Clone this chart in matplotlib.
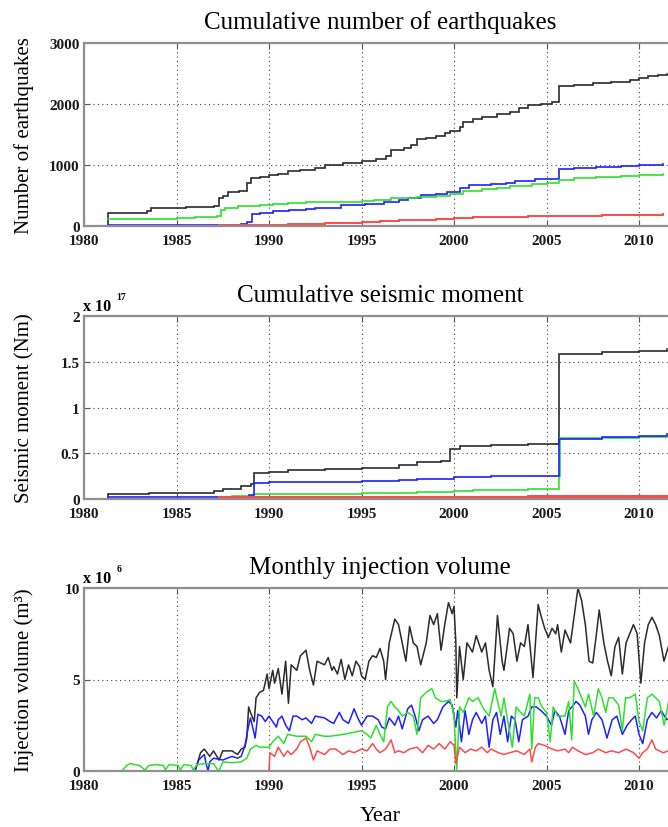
import matplotlib
matplotlib.use("Agg")
import matplotlib.pyplot as plt
import numpy as np

plt.rcParams['font.family'] = ['Liberation Serif', 'DejaVu Serif']

# ---------------- data ----------------
years_ticks = [1980, 1985, 1990, 1995, 2000, 2005, 2010]

# Cumulative number of earthquakes (time, count) step breakpoints
count_black = [(1981.0, 0), (1981.3, 220), (1983.4, 250), (1983.6, 300), (1985.5, 305), (1986.3, 315), (1987.0, 335),
               (1987.3, 460), (1987.5, 500), (1987.8, 550), (1988.4, 580), (1988.8, 700), (1989.0, 780), (1989.5, 800),
               (1990.0, 830), (1990.5, 860), (1991.0, 900), (1991.7, 920), (1992.5, 950), (1993.0, 1000), (1994.0, 1030),
               (1995.0, 1070), (1995.8, 1100), (1996.3, 1140), (1996.6, 1250), (1997.3, 1280), (1997.7, 1320),
               (1998.0, 1420), (1998.5, 1450), (1999.0, 1480), (1999.5, 1520), (1999.8, 1560), (2000.3, 1620),
               (2000.5, 1700), (2001.0, 1750), (2001.5, 1790), (2002.3, 1830), (2003.0, 1870), (2003.5, 1940),
               (2004.0, 1980), (2004.7, 2000), (2005.3, 2030), (2005.7, 2290), (2006.5, 2310), (2007.5, 2340),
               (2008.5, 2360), (2009.5, 2390), (2010.0, 2430), (2010.5, 2460), (2011.0, 2480), (2011.5, 2500)]
count_green = [(1981.3, 110), (1983.4, 120), (1985.0, 130), (1986.0, 140), (1987.2, 170), (1987.4, 270), (1987.6, 300),
               (1988.3, 330), (1989.5, 340), (1990.2, 360), (1991.0, 380), (1992.0, 400), (1995.0, 410), (1995.7, 430),
               (1996.6, 460), (1998.0, 480), (1999.0, 500), (1999.8, 520), (2000.5, 580), (2001.5, 610), (2002.3, 630),
               (2003.0, 660), (2004.2, 690), (2005.0, 700), (2005.7, 760), (2006.5, 780), (2007.7, 800), (2009.0, 820),
               (2010.0, 830), (2011.3, 850)]
count_blue = [(1981.3, 20), (1988.5, 25), (1988.8, 60), (1989.1, 200), (1989.5, 220), (1990.2, 240), (1991.1, 260),
              (1992.0, 280), (1992.5, 300), (1993.9, 340), (1995.2, 360), (1996.2, 400), (1997.0, 430), (1997.5, 460),
              (1998.2, 510), (1999.0, 530), (1999.6, 560), (2000.3, 620), (2000.8, 670), (2002.0, 690), (2002.8, 700),
              (2003.3, 740), (2004.4, 770), (2005.7, 930), (2006.5, 950), (2007.7, 960), (2009.0, 980), (2010.0, 1000),
              (2011.3, 1020)]
count_red = [(1987.3, 15), (1990.6, 20), (1991.0, 25), (1992.0, 35), (1993.0, 45), (1994.0, 55), (1995.0, 70),
             (1996.0, 80), (1997.0, 95), (1998.0, 105), (1999.0, 120), (2000.0, 130), (2001.0, 140), (2002.0, 150),
             (2003.0, 155), (2004.0, 160), (2005.0, 165), (2007.0, 170), (2008.0, 175), (2009.0, 180), (2010.0, 185),
             (2011.3, 190)]

# Cumulative seismic moment (x 1e17 Nm)
moment_black = [(1981.0, 0.005), (1981.3, 0.05), (1983.5, 0.065), (1985.5, 0.07), (1987.0, 0.085), (1987.5, 0.11),
                (1988.5, 0.14), (1989.0, 0.16), (1989.2, 0.28), (1990.0, 0.30), (1991.0, 0.32), (1993.0, 0.33),
                (1995.0, 0.34), (1997.0, 0.37), (1998.0, 0.40), (1999.3, 0.42), (1999.8, 0.55), (2000.3, 0.58),
                (2002.0, 0.59), (2004.0, 0.60), (2005.7, 1.59), (2008.0, 1.61), (2010.0, 1.62), (2011.5, 1.64)]
moment_blue = [(1981.3, 0.02), (1988.6, 0.025), (1988.9, 0.045), (1989.2, 0.18), (1990.0, 0.19), (1995.0, 0.20),
               (1997.0, 0.21), (1998.0, 0.22), (2000.0, 0.24), (2002.0, 0.25), (2005.7, 0.66), (2008.0, 0.68),
               (2010.0, 0.69), (2011.5, 0.71)]
moment_green = [(1987.3, 0.02), (1988.0, 0.035), (1989.2, 0.05), (1990.0, 0.06), (1995.0, 0.07), (1998.0, 0.08),
                (2000.0, 0.09), (2001.0, 0.10), (2004.0, 0.11), (2005.7, 0.25), (2005.75, 0.67), (2008.0, 0.67),
                (2010.0, 0.68), (2011.5, 0.68)]
moment_red = [(1987.3, 0.02), (1995.0, 0.022), (2000.0, 0.025), (2004.0, 0.03), (2011.5, 0.035)]

# Monthly injection volume (x 1e6 m3)
inj_black = [(1986.0, 0), (1986.3, 1.0), (1986.5, 1.2), (1986.8, 0.8), (1987.0, 1.1), (1987.3, 0.6), (1987.5, 1.1),
             (1988.0, 1.1), (1988.3, 0.9), (1988.5, 1.2), (1988.7, 1.3), (1988.8, 1.8), (1988.9, 3.5), (1989.0, 3.2),
             (1989.2, 2.7), (1989.3, 4.0), (1989.5, 4.3), (1989.7, 4.4), (1989.9, 5.3), (1990.0, 4.5), (1990.2, 5.5),
             (1990.3, 4.8), (1990.5, 5.6), (1990.7, 4.2), (1990.9, 6.0), (1991.05, 3.7), (1991.2, 5.8), (1991.5, 5.5),
             (1991.7, 6.3), (1992.0, 6.6), (1992.2, 5.5), (1992.4, 4.7), (1992.6, 6.0), (1993.0, 5.8), (1993.2, 6.2),
             (1993.4, 5.5), (1993.5, 5.7), (1993.7, 5.3), (1993.9, 6.1), (1994.1, 5.0), (1994.3, 5.8), (1994.5, 5.2),
             (1994.7, 6.0), (1994.9, 5.7), (1995.0, 5.2), (1995.2, 5.0), (1995.4, 6.0), (1995.6, 6.3), (1995.8, 6.2),
             (1996.0, 6.7), (1996.2, 6.0), (1996.3, 5.0), (1996.5, 7.0), (1996.8, 8.3), (1997.0, 8.0), (1997.2, 7.0),
             (1997.4, 6.0), (1997.6, 7.9), (1997.8, 7.0), (1998.0, 6.8), (1998.2, 5.8), (1998.5, 7.0), (1998.7, 8.5),
             (1998.9, 8.0), (1999.1, 8.6), (1999.3, 6.6), (1999.5, 8.0), (1999.7, 9.2), (1999.9, 8.6), (2000.0, 9.0),
             (2000.1, 7.0), (2000.15, 4.0), (2000.3, 6.8), (2000.5, 5.0), (2000.7, 7.0), (2001.0, 6.5), (2001.2, 7.4),
             (2001.5, 6.5), (2001.7, 7.0), (2001.9, 5.5), (2002.1, 4.6), (2002.35, 8.5), (2002.6, 6.0), (2002.7, 5.5),
             (2002.9, 7.0), (2003.0, 7.8), (2003.2, 7.5), (2003.4, 6.0), (2003.6, 7.0), (2003.8, 6.8), (2004.0, 8.0),
             (2004.27, 5.1), (2004.55, 9.1), (2004.7, 8.5), (2004.9, 7.8), (2005.1, 7.3), (2005.3, 7.8), (2005.5, 7.5),
             (2005.6, 8.0), (2005.8, 6.5), (2006.0, 7.7), (2006.3, 7.0), (2006.5, 8.5), (2006.7, 10.0), (2006.9, 9.3),
             (2007.1, 8.0), (2007.3, 6.0), (2007.5, 5.9), (2007.7, 7.5), (2007.85, 8.8), (2008.1, 7.0), (2008.3, 6.0),
             (2008.5, 5.2), (2008.7, 6.8), (2008.9, 7.3), (2009.1, 5.3), (2009.3, 7.0), (2009.5, 7.5), (2009.7, 8.0),
             (2009.9, 7.5), (2010.1, 4.8), (2010.3, 7.0), (2010.5, 8.0), (2010.7, 8.4), (2010.9, 8.0), (2011.1, 7.4),
             (2011.35, 6.0), (2011.5, 6.5), (2011.8, 7.5)]
inj_blue = [(1986.0, 0), (1986.2, 0.6), (1986.5, 0.9), (1986.6, 0.4), (1986.7, 0.0), (1986.8, 0.5), (1987.0, 0.7),
            (1987.5, 0.6), (1988.0, 0.8), (1988.3, 0.7), (1988.5, 0.8), (1988.7, 1.4), (1988.9, 2.5), (1989.0, 2.9),
            (1989.25, 1.8), (1989.4, 3.1), (1989.6, 3.0), (1989.8, 2.7), (1990.0, 3.0), (1990.2, 2.7), (1990.4, 2.4),
            (1990.5, 2.8), (1990.7, 3.0), (1990.9, 2.5), (1991.1, 2.2), (1991.3, 3.0), (1991.5, 3.0), (1991.8, 2.8),
            (1992.0, 2.9), (1992.3, 2.6), (1992.5, 3.0), (1993.0, 2.9), (1993.3, 2.7), (1993.5, 2.6), (1993.8, 3.2),
            (1994.0, 2.8), (1994.3, 2.6), (1994.6, 3.4), (1994.8, 2.9), (1995.0, 2.5), (1995.3, 3.0), (1995.6, 3.0),
            (1995.9, 2.8), (1996.1, 2.4), (1996.3, 2.3), (1996.5, 2.9), (1996.8, 2.5), (1997.0, 3.0), (1997.2, 2.3),
            (1997.5, 3.4), (1997.7, 3.6), (1997.9, 3.0), (1998.1, 2.2), (1998.3, 2.8), (1998.6, 3.0), (1998.9, 2.6),
            (1999.1, 2.8), (1999.4, 3.5), (1999.7, 3.8), (1999.9, 3.6), (2000.1, 2.4), (2000.2, 3.3), (2000.4, 1.6),
            (2000.6, 3.3), (2000.8, 2.0), (2001.0, 2.8), (2001.2, 3.2), (2001.5, 2.6), (2001.7, 3.0), (2001.9, 1.3),
            (2002.1, 2.8), (2002.3, 3.2), (2002.5, 2.0), (2002.7, 3.0), (2002.9, 1.6), (2003.1, 3.0), (2003.3, 2.8),
            (2003.5, 1.6), (2003.7, 2.8), (2004.0, 3.0), (2004.2, 3.5), (2004.45, 3.5), (2004.7, 3.3), (2005.0, 3.0),
            (2005.27, 2.5), (2005.45, 3.3), (2005.7, 3.0), (2006.0, 2.0), (2006.2, 3.3), (2006.45, 3.6), (2006.6, 3.8),
            (2006.8, 3.6), (2007.1, 3.0), (2007.27, 2.0), (2007.45, 2.8), (2007.7, 3.2), (2008.0, 2.8), (2008.27, 1.8),
            (2008.55, 2.8), (2008.8, 3.0), (2009.1, 2.0), (2009.36, 2.5), (2009.6, 2.8), (2009.8, 3.0), (2010.0, 2.0),
            (2010.2, 1.5), (2010.45, 2.8), (2010.7, 3.2), (2010.95, 2.9), (2011.2, 3.3), (2011.5, 2.8), (2011.9, 3.0)]
inj_green = [(1982.05, 0), (1982.3, 0.3), (1982.5, 0.4), (1983.0, 0.3), (1983.3, 0.05), (1983.5, 0.3), (1983.9, 0.35),
             (1984.3, 0.3), (1984.4, 0.05), (1984.6, 0.35), (1985.1, 0.3), (1985.2, 0.05), (1985.4, 0.35), (1985.8, 0.3),
             (1985.9, 0.05), (1986.1, 0.35), (1986.5, 0.4), (1987.0, 0.4), (1987.2, 0.1), (1987.3, 0.0), (1987.5, 0.5),
             (1988.0, 0.45), (1988.5, 0.5), (1988.8, 0.7), (1989.0, 1.2), (1989.3, 1.4), (1989.5, 1.3), (1990.0, 1.3),
             (1990.2, 1.6), (1990.5, 1.9), (1990.8, 1.5), (1991.0, 2.0), (1991.5, 1.9), (1992.0, 1.9), (1992.3, 1.6),
             (1992.5, 2.0), (1993.0, 1.9), (1993.3, 1.9), (1994.0, 2.0), (1994.5, 2.1), (1995.0, 2.2), (1995.3, 2.0),
             (1995.5, 1.8), (1995.8, 2.5), (1996.0, 2.0), (1996.2, 1.6), (1996.4, 3.5), (1996.6, 3.8), (1996.8, 3.5),
             (1997.0, 3.3), (1997.2, 3.0), (1997.5, 3.2), (1997.8, 3.0), (1998.0, 2.0), (1998.2, 4.0), (1998.5, 4.3),
             (1998.8, 4.5), (1999.0, 4.0), (1999.3, 3.8), (1999.5, 3.8), (1999.8, 3.9), (2000.0, 3.0), (2000.15, 0.1),
             (2000.3, 3.5), (2000.5, 3.2), (2000.8, 4.0), (2001.0, 3.8), (2001.3, 4.0), (2001.6, 3.4), (2001.9, 3.0),
             (2002.2, 4.5), (2002.36, 3.8), (2002.55, 3.0), (2002.7, 4.0), (2002.9, 2.8), (2003.15, 1.3), (2003.36, 3.5),
             (2003.6, 3.2), (2003.8, 3.0), (2004.1, 4.2), (2004.2, 1.2), (2004.36, 4.0), (2004.55, 4.0), (2004.75, 3.5),
             (2005.0, 3.2), (2005.2, 1.6), (2005.36, 3.5), (2005.6, 3.0), (2006.0, 3.0), (2006.2, 3.8), (2006.36, 1.7),
             (2006.5, 4.9), (2006.7, 4.5), (2006.9, 4.0), (2007.1, 3.5), (2007.27, 4.2), (2007.55, 3.0), (2007.8, 4.5),
             (2008.0, 4.0), (2008.2, 3.2), (2008.36, 4.0), (2008.6, 4.0), (2008.9, 3.6), (2009.1, 2.2), (2009.27, 4.0),
             (2009.5, 4.0), (2009.8, 4.2), (2010.0, 2.7), (2010.2, 2.2), (2010.45, 4.0), (2010.7, 4.2), (2011.1, 3.8),
             (2011.36, 2.5), (2011.6, 3.8), (2011.9, 3.5)]
inj_red = [(1990.0, 0), (1990.05, 1.0), (1990.3, 0.8), (1990.5, 1.3), (1990.8, 0.8), (1991.0, 1.1), (1991.2, 0.9),
           (1991.5, 1.2), (1991.7, 1.6), (1992.0, 1.8), (1992.2, 1.3), (1992.4, 0.6), (1992.6, 1.1), (1993.0, 0.9),
           (1993.3, 1.2), (1993.6, 1.2), (1994.0, 0.9), (1994.3, 1.1), (1994.6, 1.0), (1995.0, 1.2), (1995.3, 1.1),
           (1995.6, 1.5), (1995.8, 1.2), (1996.0, 1.0), (1996.3, 1.2), (1996.6, 1.7), (1996.8, 1.0), (1997.0, 1.1),
           (1997.3, 1.0), (1997.6, 1.2), (1998.0, 1.3), (1998.3, 1.0), (1998.6, 1.4), (1998.9, 1.2), (1999.2, 1.5),
           (1999.5, 1.2), (1999.8, 1.6), (2000.0, 1.4), (2000.1, 0.4), (2000.3, 1.3), (2000.6, 1.0), (2000.9, 1.2),
           (2001.2, 1.1), (2001.5, 1.3), (2001.8, 1.0), (2002.0, 1.2), (2002.4, 1.0), (2002.7, 0.9), (2003.0, 1.0),
           (2003.4, 1.1), (2003.8, 0.9), (2004.1, 1.2), (2004.2, 0.5), (2004.4, 1.3), (2004.55, 1.5), (2004.9, 1.4),
           (2005.3, 1.2), (2005.6, 1.1), (2006.0, 1.2), (2006.2, 1.0), (2006.4, 1.3), (2006.7, 1.1), (2007.1, 0.9),
           (2007.5, 1.0), (2007.8, 1.2), (2008.2, 1.0), (2008.5, 1.1), (2008.9, 1.0), (2009.3, 1.2), (2009.7, 1.0),
           (2010.0, 0.7), (2010.2, 1.0), (2010.45, 1.2), (2010.7, 1.7), (2010.9, 1.2), (2011.3, 1.0), (2011.6, 1.1),
           (2011.9, 1.0)]

titles = ["Cumulative number of earthquakes", "Cumulative seismic moment", "Monthly injection volume"]
ylabels = ["Number of earthquakes", "Seismic moment (Nm)", "Injection volume (m³)"]

C_BLACK = '#2b2b2b'
C_BLUE = '#1f1fff'
C_GREEN = '#2ee02e'
C_RED = '#ff4a4a'

# ---------------- figure ----------------
W, H = 668, 828
fig = plt.figure(figsize=(W / 100, H / 100), dpi=100)

left_px, right_px = 84, 676
panels_px = [(44, 227), (317, 500), (589, 772)]
axes = []
for top, bot in panels_px:
    ax = fig.add_axes([left_px / W, (H - bot) / H, (right_px - left_px) / W, (bot - top) / H])
    axes.append(ax)


def style(ax, yticks, yticklabels):
    ax.set_xlim(1980, 2012)
    ax.set_xticks(years_ticks)
    ax.set_xticklabels([str(y) for y in years_ticks])
    ax.set_yticks(yticks)
    ax.set_yticklabels(yticklabels)
    ax.set_ylim(yticks[0], yticks[-1])
    for sp in ax.spines.values():
        sp.set_color('#8f8f8f')
        sp.set_linewidth(1.6)
    ax.tick_params(direction='in', length=4, width=0.8, color='#555555', top=True, right=True,
                   labelsize=11)
    ax.tick_params(axis='x', pad=6)
    ax.tick_params(axis='y', pad=3)
    for lab in ax.get_xticklabels() + ax.get_yticklabels():
        lab.set_fontweight('bold')
        lab.set_color('#1a1a1a')
    ax.grid(True, color='#444444', linestyle=(0, (1, 3)), linewidth=0.8)
    ax.set_axisbelow(True)


def step(ax, pts, color, lw=1.2):
    t = [p[0] for p in pts]
    v = [p[1] for p in pts]
    ax.step(t, v, where='post', color=color, lw=lw, solid_joinstyle='miter')


def line(ax, pts, color, lw=1.1):
    t = [p[0] for p in pts]
    v = [p[1] for p in pts]
    ax.plot(t, v, color=color, lw=lw)


# Panel 1
ax = axes[0]
style(ax, [0, 1000, 2000, 3000], ['0', '1000', '2000', '3000'])
step(ax, count_black, C_BLACK)
step(ax, count_blue, C_BLUE)
step(ax, count_green, C_GREEN)
step(ax, count_red, C_RED, lw=1.4)

# Panel 2
ax = axes[1]
style(ax, [0, 0.5, 1, 1.5, 2], ['0', '0.5', '1', '1.5', '2'])
step(ax, moment_black, C_BLACK)
step(ax, moment_green, C_GREEN)
step(ax, moment_blue, C_BLUE)
step(ax, moment_red, C_RED, lw=2.2)

# Panel 3
ax = axes[2]
style(ax, [0, 5, 10], ['0', '5', '10'])
line(ax, inj_black, C_BLACK)
line(ax, inj_blue, C_BLUE)
line(ax, inj_green, C_GREEN)
line(ax, inj_red, C_RED)

for ax, t, yl in zip(axes, titles, ylabels):
    ax.set_title(t, fontsize=18, pad=11)
    ax.set_ylabel(yl, fontsize=15)
    ax.yaxis.set_label_coords((34 - left_px) / (right_px - left_px), 0.5)

axes[2].set_xlabel('Year', fontsize=16, labelpad=10)

# exponent labels
for ax, ex in [(axes[1], '17'), (axes[2], '6')]:
    ax.annotate('x 10', xy=(0, 1), xycoords='axes fraction', xytext=(-0.5, 1.5), textcoords='offset points',
                ha='left', va='bottom', fontsize=11.5, fontweight='bold')
    ax.annotate(ex, xy=(0, 1), xycoords='axes fraction', xytext=(23.5, 11), textcoords='offset points',
                ha='left', va='bottom', fontsize=7, fontweight='bold')

fig.savefig('out.png', dpi=100)
